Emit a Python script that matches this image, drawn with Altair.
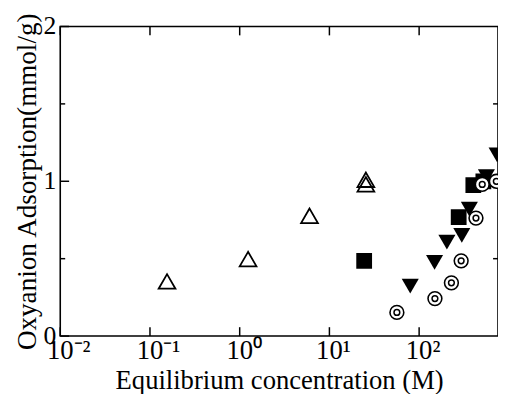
import altair as alt
import pandas as pd

# ---- data ----
tri_x = [0.155, 1.24, 6.0, 25.5, 25.5]
tri_y = [0.353, 0.497, 0.777, 1.01, 0.98]
sq_x = [24.4, 276, 402, 520]
sq_y = [0.486, 0.769, 0.975, 1.0]
dtri_x = [79.6, 148.6, 204, 299, 363, 562, 740]
dtri_y = [0.323, 0.476, 0.607, 0.65, 0.82, 1.03, 1.17]
circ_x = [56.5, 150, 229, 294, 430, 505, 725]
circ_y = [0.153, 0.242, 0.344, 0.486, 0.762, 0.98, 1.0]

x_ticks = [0.01, 0.1, 1, 10, 100]
x_tick_labels = ["10⁻²", "10⁻¹", "10⁰", "10¹", "10²"]
y_ticks = [0, 1, 2]
y_tick_labels = ["0", "1", "2"]
y_minor = [0.5, 1.5]
x_domain = [0.01, 757]
y_domain = [0, 2]

FONT = "Liberation Serif"
W, H = 444, 314
MAJOR, MINOR = 9, 5

tri = pd.DataFrame({"x": tri_x, "y": tri_y})
sq = pd.DataFrame({"x": sq_x, "y": sq_y})
dtri = pd.DataFrame({"x": dtri_x, "y": dtri_y})
circ = pd.DataFrame({"x": circ_x, "y": circ_y})
xt = pd.DataFrame({"x": x_ticks})
yt = pd.DataFrame({"y": y_ticks, "label": y_tick_labels})
ym = pd.DataFrame({"y": y_minor})
yr = pd.DataFrame({"y": [1]})

xs = alt.Scale(type="log", domain=x_domain, nice=False)
ys = alt.Scale(domain=y_domain, nice=False, zero=False)

label_expr = "[" + ",".join("'" + s + "'" for s in x_tick_labels) + "][round(log(datum.value)/LN10)+2]"

x_main = alt.Axis(orient="bottom", values=x_ticks, ticks=False, tickSize=0, domain=False, grid=False,
                  labelExpr=label_expr,
                  labelFont=FONT, labelFontSize=27, labelColor="black", labelAlign="left",
                  labelOffset=-14, labelPadding=2, labelFlush=False, labelOverlap=False,
                  labelBound=False,
                  title="Equilibrium concentration (M)", titleFont=FONT, titleFontSize=27,
                  titleFontWeight="normal", titleColor="black", titlePadding=4)
y_main = alt.Axis(orient="left", values=y_ticks, ticks=False, tickSize=0, domain=False, grid=False,
                  labels=False,
                  title="Oxyanion Adsorption(mmol/g)", titleFont=FONT, titleFontSize=27.5,
                  titleFontWeight="normal", titleColor="black", titlePadding=19)


def X():
    return alt.X("x:Q", scale=xs, axis=x_main)


def Y():
    return alt.Y("y:Q", scale=ys, axis=y_main)


l_tri = alt.Chart(tri).mark_point(shape="triangle-up", size=290, filled=False, stroke="black",
                                   strokeWidth=1.8, opacity=1, clip=True).encode(x=X(), y=Y())

l_sq = alt.Chart(sq).mark_point(shape="square", size=256, filled=True, color="black",
                                 opacity=1, clip=True).encode(x=X(), y=Y())

l_dtri = alt.Chart(dtri).mark_point(shape="triangle-down", size=300, filled=True, color="black",
                                     opacity=1, clip=True).encode(x=X(), y=Y())

l_circ = alt.Chart(circ).mark_point(shape="circle", size=196, filled=False, fill="white", fillOpacity=1,
                                     stroke="black", strokeWidth=1.6, opacity=1, clip=True).encode(x=X(), y=Y())

l_circ_in = alt.Chart(circ).mark_point(shape="circle", size=34, filled=False,
                                        stroke="black", strokeWidth=1.5, opacity=1, clip=True).encode(x=X(), y=Y())

# inward tick marks on the frame
rule = dict(color="black", strokeWidth=1.5)
t_bottom = alt.Chart(xt).mark_rule(**rule).encode(x=X(), y=alt.value(H), y2=alt.value(H - MAJOR))
t_top = alt.Chart(xt).mark_rule(**rule).encode(x=X(), y=alt.value(0), y2=alt.value(MAJOR))
t_left = alt.Chart(yt).mark_rule(**rule).encode(y=Y(), x=alt.value(0), x2=alt.value(MAJOR))
t_left_minor = alt.Chart(ym).mark_rule(**rule).encode(y=Y(), x=alt.value(0), x2=alt.value(MINOR))
t_right = alt.Chart(yr).mark_rule(**rule).encode(y=Y(), x=alt.value(W), x2=alt.value(W - MAJOR))
t_right_minor = alt.Chart(ym).mark_rule(**rule).encode(y=Y(), x=alt.value(W), x2=alt.value(W - MINOR))

# y tick labels
y_lab = alt.Chart(yt).mark_text(font=FONT, fontSize=26, color="black", align="right",
                                baseline="middle").encode(y=Y(), x=alt.value(-4), text="label:N")

chart = alt.layer(
    l_tri, t_bottom, t_top, t_left, t_left_minor, t_right, t_right_minor,
    l_sq, l_dtri, l_circ, l_circ_in, y_lab
).properties(
    width=W, height=H,
    padding={"left": 53, "top": 16, "right": 0, "bottom": 56},
    autosize=alt.AutoSizeParams(type="none"),
    background="white",
).configure_view(stroke="black", strokeWidth=1.6)

chart.save("out.html", embed_options={"renderer": "svg", "actions": False})
